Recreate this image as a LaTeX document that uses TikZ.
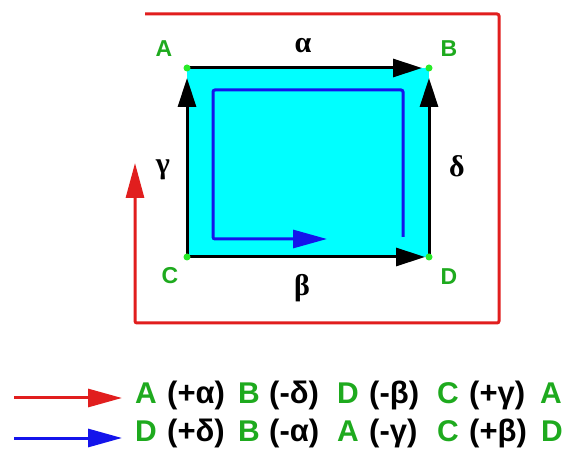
\documentclass[tikz,border=0pt]{standalone}
\usepackage{fontspec}
\setmainfont{Liberation Sans}
\newfontfamily\serifgr{Liberation Serif}
\usetikzlibrary{arrows.meta}
\definecolor{lblgreen}{RGB}{30,170,30}
\definecolor{dotgreen}{RGB}{40,235,40}
\definecolor{fillcyan}{RGB}{0,255,255}
\definecolor{linered}{RGB}{225,30,30}
\definecolor{lineblue}{RGB}{20,20,235}
\begin{document}
\begin{tikzpicture}[x=1pt,y=-1pt,
  edgeline/.style={line width=3pt,black,-{Triangle[length=29pt,width=18pt]}},
  blueline/.style={line width=3pt,lineblue,rounded corners=2pt,-{Triangle[length=34pt,width=18pt]}},
  redline/.style={line width=3pt,linered,rounded corners=2pt,-{Triangle[length=35pt,width=18pt]}},
  cornerdot/.style={circle,fill=dotgreen,inner sep=0pt,minimum size=7pt},
  ptlabel/.style={text=lblgreen,font=\fontsize{23}{25}\selectfont\bfseries,inner sep=0pt},
  grlabel/.style={text=black,font=\fontsize{30}{32}\selectfont\serifgr\bfseries,inner sep=0pt},
  legpt/.style={text=lblgreen,font=\fontsize{30}{32}\selectfont\bfseries,inner sep=0pt,anchor=base west},
  legtx/.style={text=black,font=\fontsize{31}{33}\selectfont\bfseries,inner sep=0pt,anchor=base west}
]
\useasboundingbox (0,0) rectangle (568,454);
\fill[white] (0,0) rectangle (568,454);

% corners
\coordinate (A) at (187,68);
\coordinate (B) at (429,68);
\coordinate (C) at (187,257);
\coordinate (D) at (429,257);

\fill[fillcyan] (A) rectangle (D);

% blue path
\coordinate (b1) at (403,237);
\coordinate (b2) at (403,90);
\coordinate (b3) at (213,90);
\coordinate (b4) at (213,239);
\coordinate (b5) at (327,239);
\draw[blueline] (b1) -- (b2) -- (b3) -- (b4) -- (b5);

% black edges
\draw[edgeline,shorten >=7pt] (A) -- (B);
\draw[edgeline,shorten >=4pt] (C) -- (D);
\draw[edgeline,shorten >=10pt] (C) -- (A);
\draw[edgeline,shorten >=10pt] (D) -- (B);

\node[cornerdot] (dA) at (A) {};
\node[cornerdot] (dB) at (B) {};
\node[cornerdot] (dC) at (C) {};
\node[cornerdot] (dD) at (D) {};

% red path
\coordinate (r1) at (145,14);
\coordinate (r2) at (499,14);
\coordinate (r3) at (499,323);
\coordinate (r4) at (135,323);
\coordinate (r5) at (135,163);
\draw[redline] (r1) -- (r2) -- (r3) -- (r4) -- (r5);

% labels
\node[ptlabel] (lA) at (164,49) {A};
\node[ptlabel] (lB) at (449,49) {B};
\node[ptlabel] (lC) at (170,276) {C};
\node[ptlabel] (lD) at (449,277) {D};
\node[grlabel] (ga) at (303,46) {α};
\node[grlabel] (gb) at (302,288) {β};
\node[grlabel] (gc) at (163,170) {γ};
\node[grlabel] (gd) at (457,166) {δ};

% legend
\coordinate (ls1) at (14,398);
\coordinate (le1) at (122,398);
\coordinate (ls2) at (14,438);
\coordinate (le2) at (122,438);
\draw[line width=3pt,linered,-{Triangle[length=34pt,width=18pt]}] (ls1) -- (le1);
\draw[line width=3pt,lineblue,-{Triangle[length=34pt,width=18pt]}] (ls2) -- (le2);

\node[legpt] (p11) at (135,403) {A};
\node[legtx] (t11) at (167,403) {(+α)};
\node[legpt] (p12) at (238,403) {B};
\node[legtx] (t12) at (269,403) {(-δ)};
\node[legpt] (p13) at (337,403) {D};
\node[legtx] (t13) at (369,403) {(-β)};
\node[legpt] (p14) at (437,403) {C};
\node[legtx] (t14) at (469,403) {(+γ)};
\node[legpt] (p15) at (540,403) {A};

\node[legpt] (p21) at (135,442) {D};
\node[legtx] (t21) at (167,442) {(+δ)};
\node[legpt] (p22) at (238,442) {B};
\node[legtx] (t22) at (269,442) {(-α)};
\node[legpt] (p23) at (337,442) {A};
\node[legtx] (t23) at (369,442) {(-γ)};
\node[legpt] (p24) at (437,442) {C};
\node[legtx] (t24) at (469,442) {(+β)};
\node[legpt] (p25) at (541,442) {D};
\end{tikzpicture}
\end{document}
